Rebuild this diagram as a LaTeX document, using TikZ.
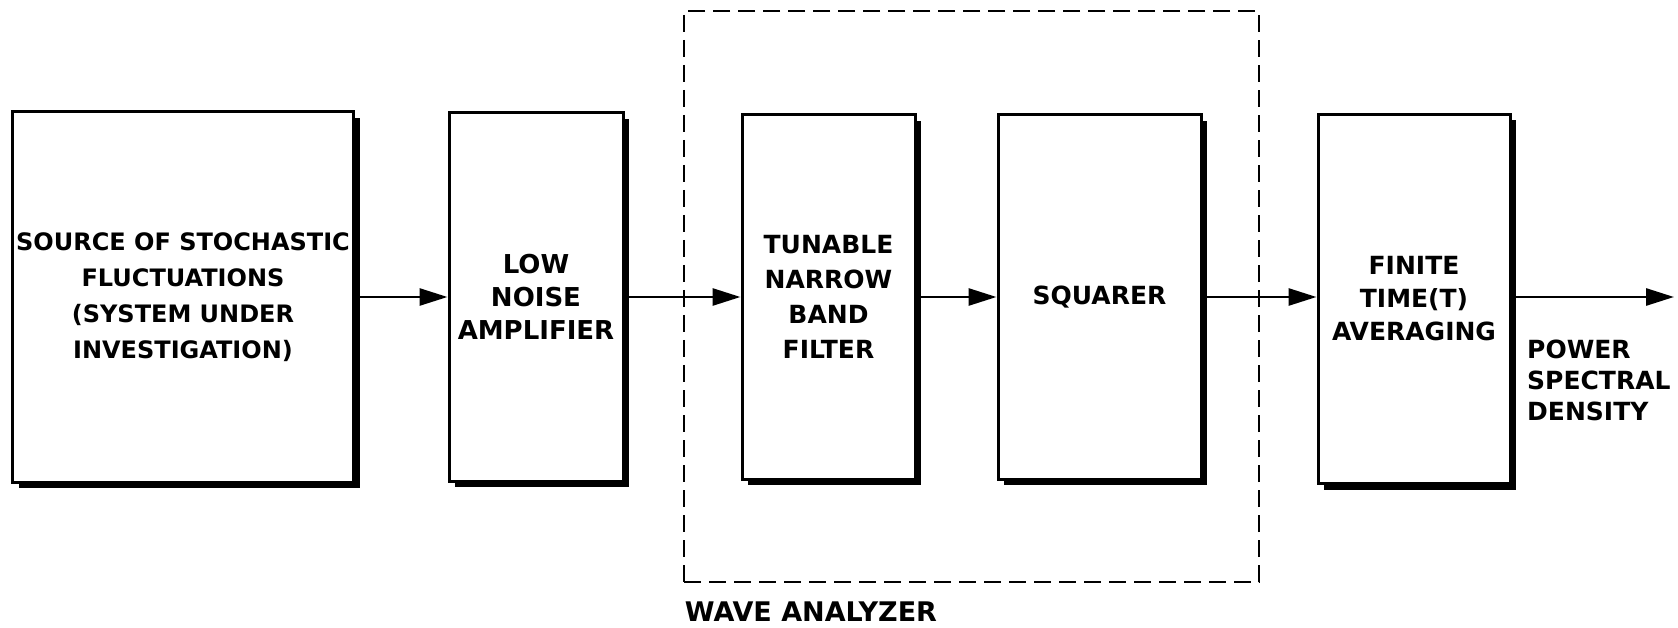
\documentclass[tikz,border=0pt]{standalone}
\usepackage{fontspec}
\setmainfont{DejaVu Sans}
\usetikzlibrary{arrows.meta,shadows}
\tikzset{
  blk/.style={draw, line width=3pt, fill=white, align=center,
    font=\bfseries\fontsize{25}{35}\selectfont, inner sep=0pt,
    drop shadow={shadow xshift=6pt, shadow yshift=-6pt, fill=black, opacity=1}},
  arr/.style={line width=2.8pt, -{Triangle[length=28pt,width=17pt]}},
  wframe/.style={draw, line width=2.6pt, dash pattern=on 17pt off 8pt, inner sep=0pt},
  lbl/.style={font=\bfseries\fontsize{25}{31}\selectfont, align=left, inner sep=0pt}
}
\begin{document}
\begin{tikzpicture}[x=1pt,y=1pt]
\useasboundingbox (0,0) rectangle (1678,-628);
\node[wframe, minimum width=575pt, minimum height=571pt] (wa) at (971.5,-296.5) {};
\node[lbl, anchor=north west, font=\bfseries\fontsize{27}{31}\selectfont] (walbl) at ([xshift=2pt,yshift=-18pt]wa.south west) {WAVE ANALYZER};
\node[blk, minimum width=341pt, minimum height=370pt, font=\bfseries\fontsize{24}{36}\selectfont] (src) at (183,-297) {SOURCE OF STOCHASTIC\\FLUCTUATIONS\\(SYSTEM UNDER\\INVESTIGATION)};
\node[blk, minimum width=174pt, minimum height=368pt, font=\bfseries\fontsize{26}{33}\selectfont] (amp) at (536,-297) {LOW\\NOISE\\AMPLIFIER};
\node[blk, minimum width=173pt, minimum height=364pt, font=\bfseries\fontsize{25}{35}\selectfont] (flt) at (828.5,-297) {TUNABLE\\NARROW\\BAND\\FILTER};
\node[blk, minimum width=203pt, minimum height=364pt] (sq) at (1099.5,-297) {SQUARER};
\node[blk, minimum width=192pt, minimum height=369pt, font=\bfseries\fontsize{25}{33}\selectfont] (avg) at (1414,-299) {FINITE\\TIME(T)\\AVERAGING};
\coordinate (out) at (1674,-297);
\draw[arr] (src.east) -- (amp.west);
\draw[arr] (amp.east) -- (flt.west);
\draw[arr] (flt.east) -- (sq.west);
\draw[arr] (sq.east) -- (avg.west |- sq.east);
\draw[arr] (avg.east |- out) -- (out);
\node[lbl, anchor=north west] (psd) at (1527,-340) {POWER\\SPECTRAL\\DENSITY};
\end{tikzpicture}
\end{document}
